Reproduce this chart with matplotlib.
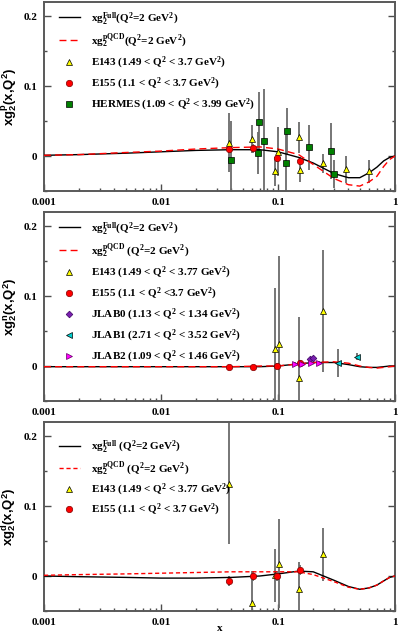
import numpy as np
import matplotlib
matplotlib.use("Agg")
import matplotlib.pyplot as plt
from matplotlib.lines import Line2D
from matplotlib.ticker import FixedLocator, NullFormatter, LogLocator

plt.rcParams['font.family'] = ['Liberation Serif', 'DejaVu Serif']
plt.rcParams['font.weight'] = 'bold'
plt.rcParams['mathtext.fontset'] = 'custom'
plt.rcParams['mathtext.rm'] = 'Liberation Serif:bold'
plt.rcParams['mathtext.it'] = 'Liberation Serif:bold'
plt.rcParams['mathtext.bf'] = 'Liberation Serif:bold'
plt.rcParams['mathtext.sf'] = 'Liberation Sans:bold'

# ---- model curves (Q^2 = 2 GeV^2) ----
x_curve = [0.001, 0.002, 0.005, 0.01, 0.02, 0.04, 0.07, 0.1, 0.15, 0.2,
           0.3, 0.4, 0.5, 0.6, 0.7, 0.8, 0.9, 1.0]
full_p = [0.001, 0.002, 0.004, 0.006, 0.008, 0.009, 0.009, 0.006, -0.002, -0.010,
          -0.025, -0.031, -0.031, -0.024, -0.016, -0.007, -0.002, 0.0]
pqcd_p = [0.001, 0.002, 0.005, 0.007, 0.010, 0.012, 0.013, 0.010, 0.002, -0.012,
          -0.032, -0.041, -0.043, -0.037, -0.029, -0.015, -0.005, 0.0]
full_n = [-0.001, -0.001, -0.001, -0.001, -0.001, -0.001, -0.001, 0.0, 0.003, 0.005,
          0.005, 0.002, -0.001, -0.002, -0.002, -0.001, 0.0, 0.0]
pqcd_n = [-0.001, -0.001, -0.001, -0.001, -0.001, -0.001, 0.0, 0.0, 0.003, 0.005,
          0.006, 0.004, 0.0, -0.002, -0.003, -0.002, -0.001, 0.0]
full_d = [0.0, -0.001, -0.002, -0.003, -0.003, -0.002, 0.0, 0.003, 0.007, 0.006,
          -0.006, -0.015, -0.019, -0.017, -0.013, -0.007, -0.002, 0.0]
pqcd_d = [0.001, 0.002, 0.003, 0.004, 0.005, 0.006, 0.006, 0.006, 0.006, 0.002,
          -0.008, -0.016, -0.019, -0.017, -0.013, -0.007, -0.002, 0.0]

# ---- proton data ----
e143_p_x = [0.038, 0.060, 0.0947, 0.100, 0.152, 0.155, 0.241, 0.381, 0.603]
e143_p_y = [0.019, 0.024, -0.022, 0.006, 0.027, -0.020, -0.0105, -0.019, -0.022]
e143_p_e = [0.042, 0.020, 0.021, 0.035, 0.022, 0.017, 0.014, 0.019, 0.017]
e155_p_x = [0.038, 0.0617, 0.0986, 0.155]
e155_p_y = [0.010, 0.011, -0.003, -0.007]
e155_p_e = [0.005, 0.006, 0.006, 0.006]
herm_p_x = [0.0394, 0.067, 0.0688, 0.0759, 0.1186, 0.118, 0.184, 0.282, 0.299]
herm_p_y = [-0.005, 0.004, 0.048, 0.021, 0.036, -0.0095, 0.0124, 0.0076, -0.025]
herm_p_e = [0.055, 0.030, 0.043, 0.075, 0.033, 0.045, 0.032, 0.040, 0.020]

# ---- neutron data ----
e143_n_x = [0.0947, 0.101, 0.152, 0.241]
e143_n_y = [0.025, 0.032, -0.0176, 0.079]
e143_n_e = [0.086, 0.125, 0.088, 0.087]
e155_n_x = [0.038, 0.0617, 0.0986, 0.155]
e155_n_y = [-0.001, -0.001, 0.0, 0.004]
e155_n_e = [0.003, 0.003, 0.004, 0.004]
jlab0_x = [0.188, 0.200]
jlab0_y = [0.0096, 0.012]
jlab0_e = [0.002, 0.002]
jlab1_x = [0.327, 0.470]
jlab1_y = [0.004, 0.013]
jlab1_e = [0.020, 0.005]
jlab2_x = [0.1406, 0.160, 0.190, 0.223]
jlab2_y = [0.003, 0.003, 0.004, 0.004]
jlab2_e = [0.003, 0.003, 0.003, 0.003]

# ---- deuteron data ----
e143_d_x = [0.038, 0.060, 0.0947, 0.101, 0.152, 0.241]
e143_d_y = [0.132, -0.039, 0.001, 0.0177, -0.018, 0.031]
e143_d_e = [0.086, 0.046, 0.038, 0.064, 0.038, 0.038]
e155_d_x = [0.038, 0.0617, 0.0986, 0.155]
e155_d_y = [-0.007, 0.0, 0.0, 0.009]
e155_d_e = [0.007, 0.007, 0.007, 0.007]

# marker styles
tri = dict(marker='^', mfc='#ffff00', mec='black', ms=4.3, mew=0.5)
circ = dict(marker='o', mfc='#ff0000', mec='#800000', ms=4.6, mew=0.5)
sq = dict(marker='s', mfc='#008000', mec='black', ms=4.2, mew=0.5)
dia = dict(marker='D', mfc='#7a1fb0', mec='#3a0060', ms=3.4, mew=0.5)
ltri = dict(marker='<', mfc='#00d0d0', mec='black', ms=4.3, mew=0.5)
rtri = dict(marker='>', mfc='#ff00ff', mec='#600060', ms=4.3, mew=0.5)

fig = plt.figure(figsize=(3.99, 6.36), dpi=100)
W, H = 399.0, 636.0
left, right = 44 / W, 395 / W
panels = [(2, 191), (212, 401), (422, 611)]


def make_ax(top, bot):
    ax = fig.add_axes([left, 1 - bot / H, right - left, (bot - top) / H])
    ax.set_xscale('log')
    ax.set_xlim(0.001, 1)
    ax.set_ylim(-0.05, 0.22)
    ax.xaxis.set_major_locator(FixedLocator([0.001, 0.01, 0.1, 1]))
    ax.set_xticklabels(['0.001', '0.01', '0.1', '1'])
    ax.xaxis.set_minor_locator(LogLocator(base=10, subs=np.arange(2, 10)))
    ax.xaxis.set_minor_formatter(NullFormatter())
    ax.yaxis.set_major_locator(FixedLocator([0, 0.1, 0.2]))
    ax.set_yticklabels(['0', '0.1', '0.2'])
    ax.yaxis.set_minor_locator(FixedLocator([-0.05, 0.05, 0.15]))
    ax.tick_params(which='both', direction='in', right=True, top=False,
                   labelsize=8, width=1, color='0.3')
    ax.tick_params(which='major', length=5, pad=5)
    ax.tick_params(which='minor', length=2.5)
    for s in ax.spines.values():
        s.set_linewidth(1.4)
        s.set_color('0.35')
    return ax


def curves(ax, full, pqcd, dashes=(5, 3)):
    ax.plot(x_curve, full, color='black', lw=1.0, zorder=3)
    ax.plot(x_curve, pqcd, color='#ff0000', lw=1.0, dashes=dashes, zorder=3)


def data(ax, x, y, e, style):
    ax.errorbar(x, y, yerr=e, fmt='none', ecolor='0.42', elinewidth=1.3,
                capsize=0, zorder=2)
    ax.plot(x, y, ls='none', zorder=4, **style)


def ylab(ax, name):
    ax.set_ylabel(r'xg$_\mathsf{2}^\mathsf{' + name + r'}$(x,Q$^\mathsf{2}$)',
                  family='Liberation Sans', fontsize=9.5, fontweight='bold')
    ax.yaxis.set_label_coords(-0.07, 0.5)


def legend(ax, items, top_off, spacing):
    handles = [Line2D([], [], **st) for st, _ in items]
    labels = [lb for _, lb in items]
    ax.legend(handles, labels, loc='upper left', frameon=False, fontsize=8,
              bbox_to_anchor=(0.02, 1 - top_off), borderaxespad=0.3,
              handlelength=1.9, handletextpad=1.0, labelspacing=spacing,
              numpoints=1)


line_full = dict(color='black', lw=1.0)
line_pqcd = dict(color='#ff0000', lw=1.0, dashes=(5, 3))
line_pqcd_d = dict(color='#ff0000', lw=1.0, dashes=(3, 2))
mk = lambda st: dict(ls='none', **st)

# proton
ax1 = make_ax(*panels[0])
curves(ax1, full_p, pqcd_p)
data(ax1, herm_p_x, herm_p_y, herm_p_e, sq)
data(ax1, e143_p_x, e143_p_y, e143_p_e, tri)
data(ax1, e155_p_x, e155_p_y, e155_p_e, circ)
ylab(ax1, 'p')
legend(ax1, [(line_full, r'xg$_2^{Full}$(Q$^2$=2 GeV$^2$)'),
             (line_pqcd, r'xg$_2^{pQCD}$(Q$^2$=2 GeV$^2$)'),
             (mk(tri), r'E143 (1.49 < Q$^2$ < 3.7 GeV$^2$)'),
             (mk(circ), r'E155 (1.1 < Q$^2$ < 3.7 GeV$^2$)'),
             (mk(sq), r'HERMES (1.09 < Q$^2$ < 3.99 GeV$^2$)')], 0.0, 0.45)

# neutron
ax2 = make_ax(*panels[1])
curves(ax2, full_n, pqcd_n)
data(ax2, e143_n_x, e143_n_y, e143_n_e, tri)
data(ax2, e155_n_x, e155_n_y, e155_n_e, circ)
data(ax2, jlab0_x, jlab0_y, jlab0_e, dia)
data(ax2, jlab1_x, jlab1_y, jlab1_e, ltri)
data(ax2, jlab2_x, jlab2_y, jlab2_e, rtri)
ylab(ax2, 'n')
legend(ax2, [(line_full, r'xg$_2^{Full}$(Q$^2$=2 GeV$^2$)'),
             (line_pqcd, r'xg$_2^{pQCD}$ (Q$^2$=2 GeV$^2$)'),
             (mk(tri), r'E143 (1.49 < Q$^2$ < 3.77 GeV$^2$)'),
             (mk(circ), r'E155 (1.1 < Q$^2$ <3.7 GeV$^2$)'),
             (mk(dia), r'JLAB0 (1.13 < Q$^2$ < 1.34 GeV$^2$)'),
             (mk(ltri), r'JLAB1 (2.71 < Q$^2$ < 3.52 GeV$^2$)'),
             (mk(rtri), r'JLAB2 (1.09 < Q$^2$ < 1.46 GeV$^2$)')], 0.0, 0.45)

# deuteron
ax3 = make_ax(*panels[2])
curves(ax3, full_d, pqcd_d, dashes=(3, 2))
data(ax3, e143_d_x, e143_d_y, e143_d_e, tri)
data(ax3, e155_d_x, e155_d_y, e155_d_e, circ)
ylab(ax3, 'd')
legend(ax3, [(line_full, r'xg$_2^{Full}$ (Q$^2$=2 GeV$^2$)'),
             (line_pqcd_d, r'xg$_2^{pQCD}$ (Q$^2$=2 GeV$^2$)'),
             (mk(tri), r'E143 (1.49 < Q$^2$ < 3.77 GeV$^2$)'),
             (mk(circ), r'E155 (1.1 < Q$^2$ < 3.7 GeV$^2$)')], 0.045, 0.38)
ax3.set_xlabel('x', fontsize=8, fontweight='bold', labelpad=-2)

fig.savefig('out.png', dpi=100)
